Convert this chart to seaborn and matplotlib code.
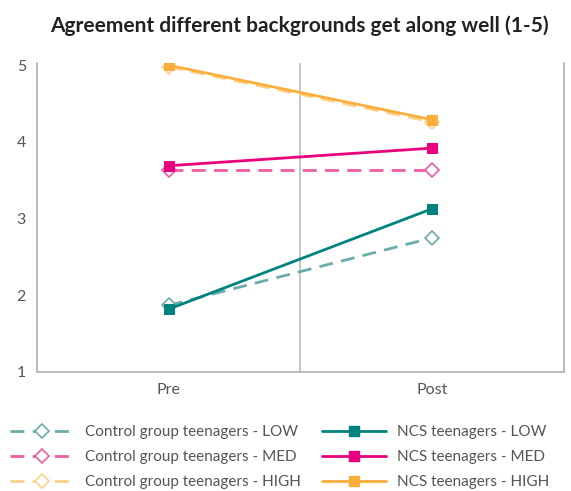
import numpy as np
import pandas as pd
import matplotlib.pyplot as plt
import seaborn as sns
from matplotlib.lines import Line2D

# 數據
periods = ['Pre', 'Post']
control_low = [1.87, 2.75]
control_med = [3.64, 3.64]
control_high = [4.98, 4.26]
ncs_low = [1.82, 3.13]
ncs_med = [3.69, 3.92]
ncs_high = [5.00, 4.29]

series_names = [
    'Control group teenagers - LOW', 'Control group teenagers - MED', 'Control group teenagers - HIGH',
    'NCS teenagers - LOW', 'NCS teenagers - MED', 'NCS teenagers - HIGH',
]
series_values = [control_low, control_med, control_high, ncs_low, ncs_med, ncs_high]
colors = ['#6aaca9', '#ef5ba4', '#fdd08c', '#00827f', '#e8007f', '#fbae3c']

records = []
for name, vals in zip(series_names, series_values):
    for i, v in enumerate(vals):
        records.append({'Series': name, 'Period': periods[i], 'x': i, 'Score': v})
df = pd.DataFrame(records)

sns.set_theme(style="white")
plt.rcParams['font.family'] = ['Lato', 'DejaVu Sans']

fig = plt.figure(figsize=(5.71, 4.91), dpi=100)
ax = fig.add_axes([0.0648, 0.2424, 0.9229, 0.6293])

handles = []
for name, col in zip(series_names, colors):
    sub = df[df['Series'] == name]
    is_ctrl = name.startswith('Control')
    kw = dict(marker='D', markersize=7.5, markerfacecolor='white', markeredgecolor=col,
              markeredgewidth=1.2, linestyle=(0, (5, 3))) if is_ctrl else \
         dict(marker='s', markersize=7, markerfacecolor=col, markeredgecolor=col, linestyle='-')
    sns.lineplot(data=sub, x='x', y='Score', color=col, linewidth=2, ax=ax, legend=False, **kw)
    handles.append(Line2D([], [], color=col, linewidth=2, **kw))

ax.set_xlim(-0.5, 1.5)
ax.set_ylim(1, 5.03)
ax.set_xticks([0, 1])
ax.set_xticklabels(periods)
ax.set_yticks([1, 2, 3, 4, 5])
ax.set_xlabel('')
ax.set_ylabel('')
ax.axvline(0.5, color='#c0c0c0', linewidth=1.3, zorder=0)
ax.spines['top'].set_visible(False)
for s in ['left', 'bottom', 'right']:
    ax.spines[s].set_color('#b5b5b5')
    ax.spines[s].set_linewidth(1.3)
ax.tick_params(axis='both', colors='#555555', labelsize=11.5, length=0, pad=8)

fig.suptitle('Agreement different backgrounds get along well (1-5)', x=0.524, y=0.968,
             fontsize=15, fontweight='bold', color='#222222')

fig.legend(handles=handles, labels=series_names, ncol=2, loc='lower left',
           bbox_to_anchor=(0.0175, 0.004), frameon=False, fontsize=11,
           borderpad=0, borderaxespad=0,
           handlelength=4.2, columnspacing=1.4, labelspacing=0.72,
           handletextpad=0.7, labelcolor='#555555')

fig.savefig('out.png', dpi=100)
